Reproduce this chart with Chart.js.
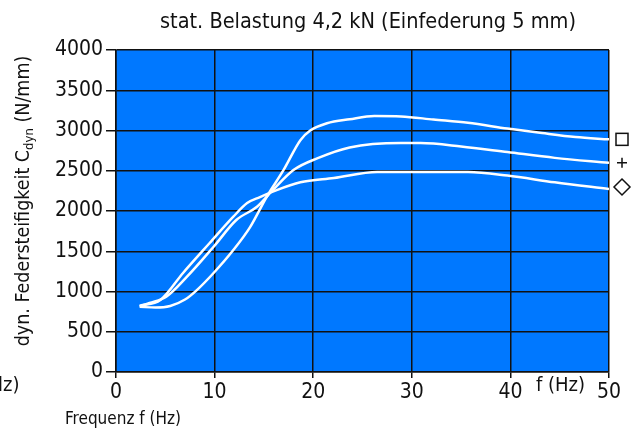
<!DOCTYPE html>
<html lang="de">
<head>
<meta charset="UTF-8">
<title>Federsteifigkeit</title>
<script src="https://cdn.jsdelivr.net/npm/chart.js"></script>
<style>
  html, body { margin: 0; padding: 0; background: #fff; }
  #wrap { width: 644px; height: 434px; }
</style>
</head>
<body>
<div id="wrap"><canvas id="chart" width="644" height="434"></canvas></div>
<script>
// values
const squareFreq = [2.4, 4, 5.5, 7, 8.2, 9.9, 11.9, 13.6, 15.3, 17, 18.7, 19.7, 21.4, 23.7, 26.2, 28.9, 32.2, 35.7, 39.7, 43.2, 46.6, 50];
const squareC    = [810, 800, 820, 900, 1018, 1230, 1515, 1800, 2180, 2510, 2880, 3000, 3090, 3140, 3180, 3175, 3136, 3095, 3024, 2968, 2919, 2890];

const plusFreq = [2.4, 3.4, 5.1, 7.2, 9.9, 12.2, 14.3, 15.9, 18, 20.4, 23.7, 28.9, 30.9, 35, 39.7, 44.5, 50];
const plusC    = [815, 857, 935, 1184, 1556, 1888, 2053, 2260, 2509, 2654, 2790, 2844, 2844, 2802, 2732, 2660, 2598];

const diamondFreq = [2.4, 4.5, 6.8, 9.5, 11.9, 13.3, 14.6, 15.9, 18.7, 22.1, 26.5, 35.7, 39.7, 44.5, 50];
const diamondC    = [823, 894, 1230, 1602, 1929, 2099, 2173, 2240, 2356, 2409, 2484, 2484, 2440, 2356, 2273];

const xTicks = [0, 10, 20, 30, 40, 50];
const yTicks = [0, 500, 1000, 1500, 2000, 2500, 3000, 3500, 4000];

const titleText = 'stat. Belastung 4,2 kN (Einfederung 5 mm)';
const FONT = '"Liberation Sans Narrow", "DejaVu Sans Condensed", sans-serif';

function toPoints(xs, ys) {
    return xs.map((x, i) => ({x: x, y: ys[i]}));
}

const series = [
    {name: 'square', data: toPoints(squareFreq, squareC)},
    {name: 'plus', data: toPoints(plusFreq, plusC)},
    {name: 'diamond', data: toPoints(diamondFreq, diamondC)}
];

const decor = {
    id: 'decor',
    beforeDraw(chart) {
        const a = chart.chartArea;
        const c = chart.ctx;
        c.save();
        c.fillStyle = '#0078ff';
        c.fillRect(a.left, a.top, a.right - a.left, a.bottom - a.top);
        c.restore();
    },
    afterDraw(chart) {
        const c = chart.ctx;
        const a = chart.chartArea;
        const ys = chart.scales.y;
        c.save();
        c.fillStyle = '#111';
        c.textBaseline = 'middle';

        // title
        c.font = '21.5px ' + FONT;
        c.textAlign = 'center';
        c.fillText(titleText, 368, 22);

        // y axis title with subscript
        c.save();
        c.translate(24, 201);
        c.rotate(-Math.PI / 2);
        const p1 = 'dyn. Federsteifigkeit C';
        const sub = 'dyn';
        const p2 = ' (N/mm)';
        c.font = '19.5px ' + FONT;
        const w1 = c.measureText(p1).width;
        const w3 = c.measureText(p2).width;
        c.font = '13px ' + FONT;
        const w2 = c.measureText(sub).width;
        let x = -(w1 + w2 + w3) / 2;
        c.textAlign = 'left';
        c.font = '19.5px ' + FONT;
        c.fillText(p1, x, 0);
        x += w1;
        c.font = '13px ' + FONT;
        c.fillText(sub, x, 6);
        x += w2;
        c.font = '19.5px ' + FONT;
        c.fillText(p2, x, 0);
        c.restore();

        // x axis texts
        c.font = '20px ' + FONT;
        c.textAlign = 'left';
        c.fillText('f (Hz)', 536, 386);
        c.fillText('lz)', -2, 386);
        c.font = '17px ' + FONT;
        c.fillText('Frequenz f (Hz)', 65, 420);

        // series markers at the right end of each curve
        c.strokeStyle = '#111';
        c.lineWidth = 1.5;
        const mx = a.right + 13;
        const ySq = ys.getPixelForValue(squareC[squareC.length - 1]);
        c.strokeRect(mx - 6, ySq - 6, 12, 12);
        const yPl = ys.getPixelForValue(plusC[plusC.length - 1]);
        c.beginPath();
        c.moveTo(mx - 5, yPl); c.lineTo(mx + 5, yPl);
        c.moveTo(mx, yPl - 5); c.lineTo(mx, yPl + 5);
        c.stroke();
        const yDi = ys.getPixelForValue(diamondC[diamondC.length - 1]) - 2;
        c.beginPath();
        c.moveTo(mx, yDi - 8); c.lineTo(mx + 8, yDi);
        c.lineTo(mx, yDi + 8); c.lineTo(mx - 8, yDi);
        c.closePath();
        c.stroke();
        c.restore();
    }
};

const ctx = document.getElementById('chart').getContext('2d');
new Chart(ctx, {
    type: 'line',
    data: {
        datasets: series.map(s => ({
            label: s.name,
            data: s.data,
            borderColor: '#ffffff',
            borderWidth: 2.5,
            pointRadius: 0,
            fill: false,
            cubicInterpolationMode: 'monotone'
        }))
    },
    options: {
        responsive: false,
        animation: false,
        layout: {padding: {left: 0, right: 35, top: 50, bottom: 0}},
        plugins: {
            legend: {display: false},
            title: {display: false},
            tooltip: {enabled: false}
        },
        scales: {
            x: {
                type: 'linear',
                min: 0,
                max: 50,
                afterBuildTicks: s => { s.ticks = xTicks.map(v => ({value: v})); },
                afterFit: s => { s.height = 62; },
                grid: {color: '#111', lineWidth: 1.5, tickLength: 6, tickColor: '#111'},
                border: {display: true, color: '#111', width: 1.5},
                ticks: {color: '#111', padding: 2, maxRotation: 0, font: {family: FONT, size: 21},
                        callback: v => String(v)}
            },
            y: {
                min: 0,
                max: 4000,
                afterBuildTicks: s => { s.ticks = yTicks.map(v => ({value: v})); },
                afterFit: s => { s.width = 116; },
                grid: {color: '#111', lineWidth: 1.5, tickLength: 10, tickColor: '#111'},
                border: {display: true, color: '#111', width: 1.5},
                ticks: {color: '#111', padding: 3, font: {family: FONT, size: 21},
                        callback: v => String(v)}
            }
        }
    },
    plugins: [decor]
});
</script>
</body>
</html>
